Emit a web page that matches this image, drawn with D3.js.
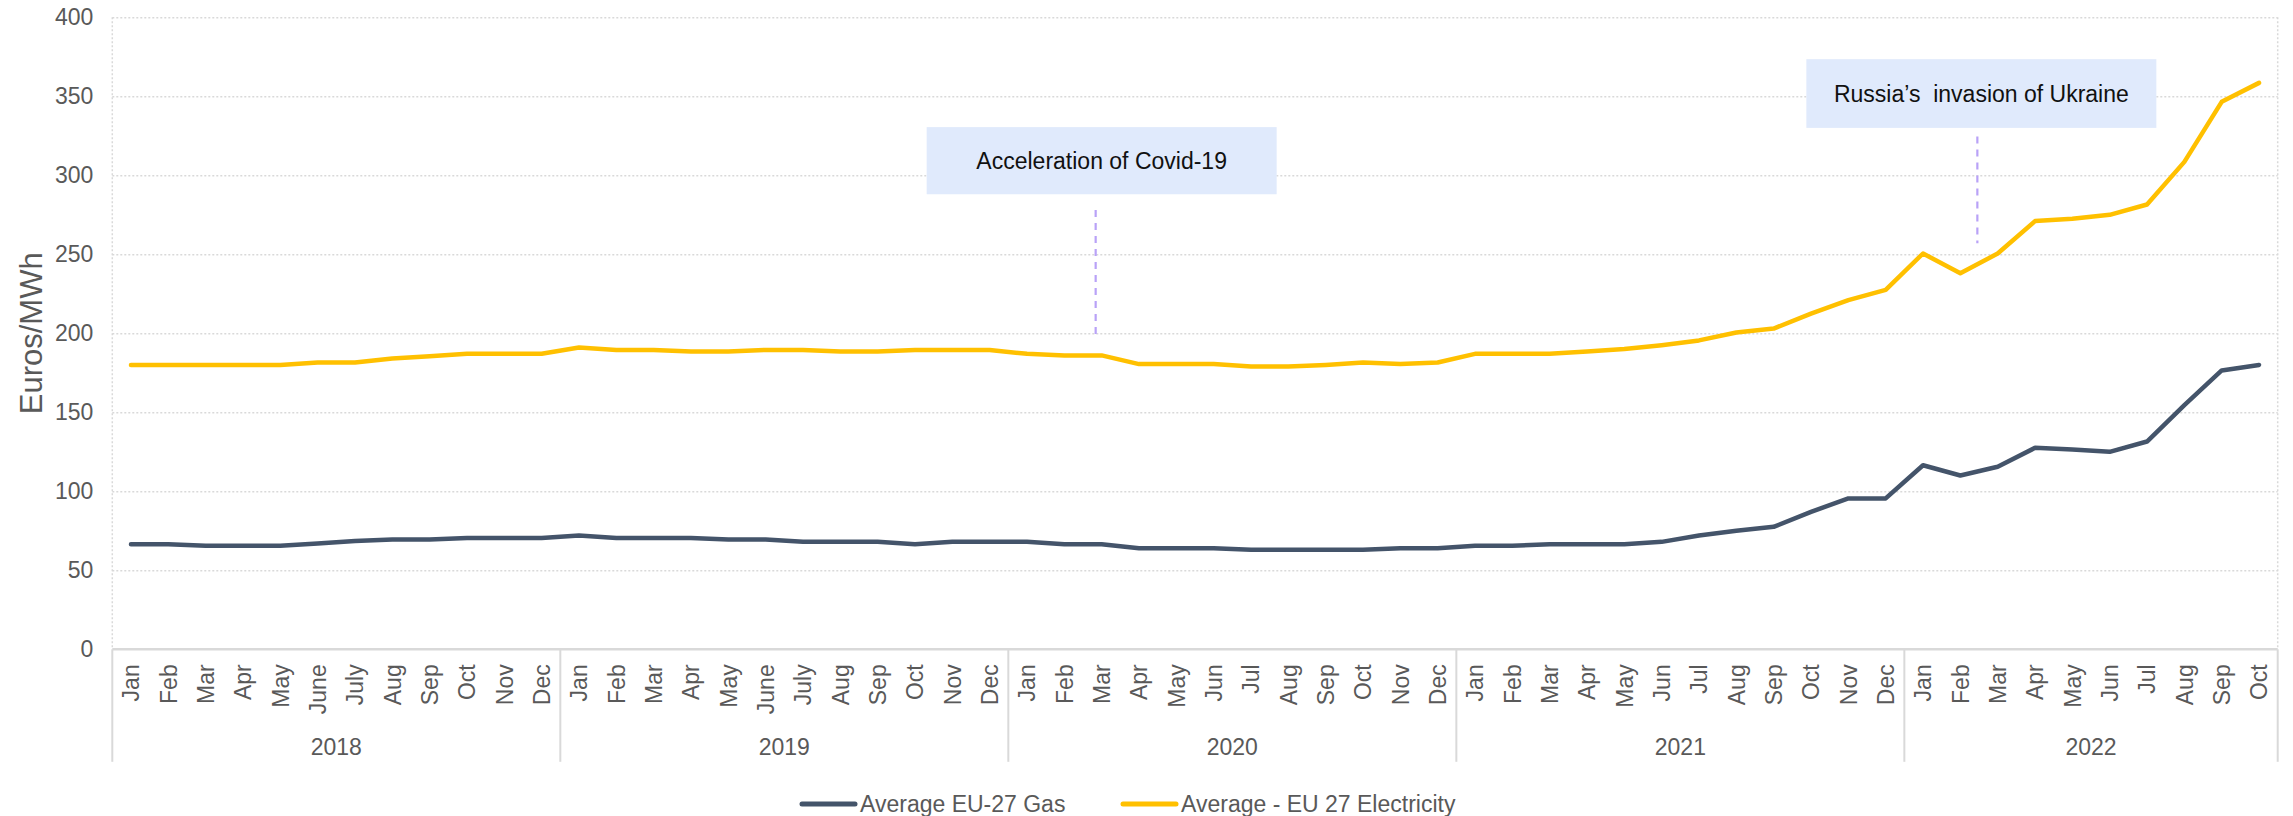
<!DOCTYPE html>
<html>
<head>
<meta charset="utf-8">
<script src="https://cdn.jsdelivr.net/npm/d3@7"></script>
<style>
  html, body { margin: 0; padding: 0; background: #fff; }
  svg { display: block; font-family: "Liberation Sans", Arial, sans-serif; }
</style>
</head>
<body>
<svg id="chart"></svg>
<script>
// data
const years = ['2018', '2019', '2020', '2021', '2022']
const monthsPerYear = [12, 12, 12, 12, 10]

const monthLabels = [
  'Jan', 'Feb', 'Mar', 'Apr', 'May', 'June', 'July', 'Aug', 'Sep', 'Oct', 'Nov', 'Dec',
  'Jan', 'Feb', 'Mar', 'Apr', 'May', 'June', 'July', 'Aug', 'Sep', 'Oct', 'Nov', 'Dec',
  'Jan', 'Feb', 'Mar', 'Apr', 'May', 'Jun', 'Jul', 'Aug', 'Sep', 'Oct', 'Nov', 'Dec',
  'Jan', 'Feb', 'Mar', 'Apr', 'May', 'Jun', 'Jul', 'Aug', 'Sep', 'Oct', 'Nov', 'Dec',
  'Jan', 'Feb', 'Mar', 'Apr', 'May', 'Jun', 'Jul', 'Aug', 'Sep', 'Oct'
]

const gasPrices = [
  66.5, 66.5, 65.5, 65.5, 65.5, 67, 68.5, 69.5, 69.5, 70.5, 70.5, 70.5,
  72, 70.5, 70.5, 70.5, 69.5, 69.5, 68, 68, 68, 66.5, 68, 68,
  68, 66.5, 66.5, 64, 64, 64, 63, 63, 63, 63, 64, 64,
  65.5, 65.5, 66.5, 66.5, 66.5, 68, 72, 75, 77.5, 87, 95.5, 95.5,
  116.5, 110, 115.5, 127.5, 126.5, 125, 131.5, 154.5, 176.5, 180
]

const electricityPrices = [
  180, 180, 180, 180, 180, 181.5, 181.5, 184, 185.5, 187, 187, 187,
  191, 189.5, 189.5, 188.5, 188.5, 189.5, 189.5, 188.5, 188.5, 189.5, 189.5, 189.5,
  187, 186, 186, 180.5, 180.5, 180.5, 179, 179, 180, 181.5, 180.5, 181.5,
  187, 187, 187, 188.5, 190, 192.5, 195.5, 200.5, 203, 212.5, 221, 227.5,
  250.5, 238, 250.5, 271, 272.5, 275, 281.5, 308.5, 346.5, 358.5
]

const yTicks = [0, 50, 100, 150, 200, 250, 300, 350, 400]

const seriesNames = ['Average EU-27 Gas', 'Average - EU 27 Electricity']
const seriesColors = ['#44546A', '#FFC000']

// annotation: month index the marker points to, box top/bottom in Euros/MWh, dashed line from/to
const annotations = [
  { text: 'Acceleration of Covid-19', month: 26, boxTop: 330.5, boxBottom: 288, lineFrom: 278, lineTo: 198, lineShift: -6, boxShift: 0 },
  { text: 'Russia\u2019s\u00a0 invasion of Ukraine', month: 49, boxTop: 373.5, boxBottom: 330, lineFrom: 324.5, lineTo: 257, lineShift: 17, boxShift: 21 }
]

const width = 2293
const height = 816
const margin = { top: 17.3, right: 15.3, bottom: 166.7, left: 112.3 }
const w = width - margin.left - margin.right
const h = height - margin.top - margin.bottom

const textGrey = '#595959'
const lineGrey = '#d9d9d9'

const svg = d3.select('#chart')
  .attr('width', width)
  .attr('height', height)

const g = svg.append('g')
  .attr('transform', `translate(${margin.left},${margin.top})`)

const idx = d3.range(monthLabels.length)

// scales
const xScale = d3.scaleBand()
  .domain(idx)
  .range([0, w])
  .padding(0)

const yScale = d3.scaleLinear()
  .domain([0, 400])
  .range([h, 0])

const bw = xScale.bandwidth()

// grid (dotted)
g.append('g')
  .call(d3.axisLeft(yScale).tickValues(yTicks.filter(d => d > 0)).tickSize(-w).tickFormat(''))
  .call(s => s.select('.domain').remove())
  .selectAll('line')
  .attr('stroke', lineGrey)
  .attr('stroke-width', 1.5)
  .attr('stroke-dasharray', '2,2')

// left and right dotted borders
g.selectAll('.vborder')
  .data([0, w])
  .enter()
  .append('line')
  .attr('x1', d => d).attr('x2', d => d)
  .attr('y1', yScale(400)).attr('y2', yScale(0))
  .attr('stroke', lineGrey)
  .attr('stroke-width', 1.5)
  .attr('stroke-dasharray', '2,2')

// y tick labels
g.append('g')
  .call(d3.axisLeft(yScale).tickValues(yTicks).tickSize(0).tickPadding(19))
  .call(s => s.select('.domain').remove())
  .selectAll('text')
  .attr('fill', textGrey)
  .style('font-size', '23px')
  .style('font-family', '"Liberation Sans", Arial, sans-serif')

// y axis title
svg.append('text')
  .attr('transform', `translate(42,${margin.top + h / 2}) rotate(-90)`)
  .attr('text-anchor', 'middle')
  .attr('fill', textGrey)
  .style('font-size', '31px')
  .text('Euros/MWh')

// x axis: month labels
g.append('g')
  .attr('transform', `translate(0,${h})`)
  .call(d3.axisBottom(xScale).tickSize(0).tickFormat(i => monthLabels[i]))
  .call(s => s.select('.domain').remove())
  .selectAll('text')
  .attr('transform', 'rotate(-90)')
  .attr('x', -15)
  .attr('y', 0)
  .attr('dy', '0.36em')
  .attr('text-anchor', 'end')
  .attr('fill', textGrey)
  .style('font-size', '23px')
  .style('font-family', '"Liberation Sans", Arial, sans-serif')

// axis baseline
g.append('line')
  .attr('x1', 0).attr('x2', w)
  .attr('y1', yScale(0)).attr('y2', yScale(0))
  .attr('stroke', lineGrey)
  .attr('stroke-width', 2.5)

// year groups
const yearStarts = d3.cumsum([0, ...monthsPerYear])
const sepX = yearStarts.map(s => s < monthLabels.length ? xScale(s) : w)

g.selectAll('.yearSep')
  .data(sepX)
  .enter()
  .append('line')
  .attr('x1', d => d).attr('x2', d => d)
  .attr('y1', h).attr('y2', h + 112.5)
  .attr('stroke', lineGrey)
  .attr('stroke-width', 2)

g.selectAll('.yearLabel')
  .data(years)
  .enter()
  .append('text')
  .attr('x', (d, i) => (sepX[i] + sepX[i + 1]) / 2)
  .attr('y', h + 97)
  .attr('dy', '0.36em')
  .attr('text-anchor', 'middle')
  .attr('fill', textGrey)
  .style('font-size', '23px')
  .text(d => d)

// annotations
annotations.forEach(a => {
  const cx = xScale(a.month) + bw / 2
  g.append('rect')
    .attr('x', cx + a.boxShift - 175)
    .attr('y', yScale(a.boxTop))
    .attr('width', 350)
    .attr('height', yScale(a.boxBottom) - yScale(a.boxTop))
    .attr('fill', '#E0EAFC')
  g.append('text')
    .attr('x', cx + a.boxShift)
    .attr('y', (yScale(a.boxTop) + yScale(a.boxBottom)) / 2)
    .attr('dy', '0.36em')
    .attr('text-anchor', 'middle')
    .attr('fill', '#111')
    .style('font-size', '23px')
    .text(a.text)
  g.append('line')
    .attr('x1', cx + a.lineShift).attr('x2', cx + a.lineShift)
    .attr('y1', yScale(a.lineFrom)).attr('y2', yScale(a.lineTo))
    .attr('stroke', '#B9A2F7')
    .attr('stroke-width', 2.2)
    .attr('stroke-dasharray', '7,6')
})

// lines
const line = d3.line()
  .x((d, i) => xScale(i) + bw / 2)
  .y(d => yScale(d))

const seriesData = [gasPrices, electricityPrices]

g.selectAll('.series')
  .data(seriesData)
  .enter()
  .append('path')
  .attr('d', d => line(d))
  .attr('fill', 'none')
  .attr('stroke', (d, i) => seriesColors[i])
  .attr('stroke-width', 4.5)
  .attr('stroke-linejoin', 'round')
  .attr('stroke-linecap', 'round')

// legend
const legend = svg.append('g')
  .attr('transform', 'translate(802,804)')

const legendX = [0, 321]

seriesNames.forEach((name, i) => {
  const lg = legend.append('g').attr('transform', `translate(${legendX[i]},0)`)
  lg.append('line')
    .attr('x1', 0).attr('x2', 53)
    .attr('y1', 0).attr('y2', 0)
    .attr('stroke', seriesColors[i])
    .attr('stroke-width', 5)
    .attr('stroke-linecap', 'round')
  lg.append('text')
    .attr('x', 58)
    .attr('y', 0)
    .attr('dy', '0.36em')
    .attr('fill', textGrey)
    .style('font-size', '23px')
    .text(name)
})
</script>
</body>
</html>
